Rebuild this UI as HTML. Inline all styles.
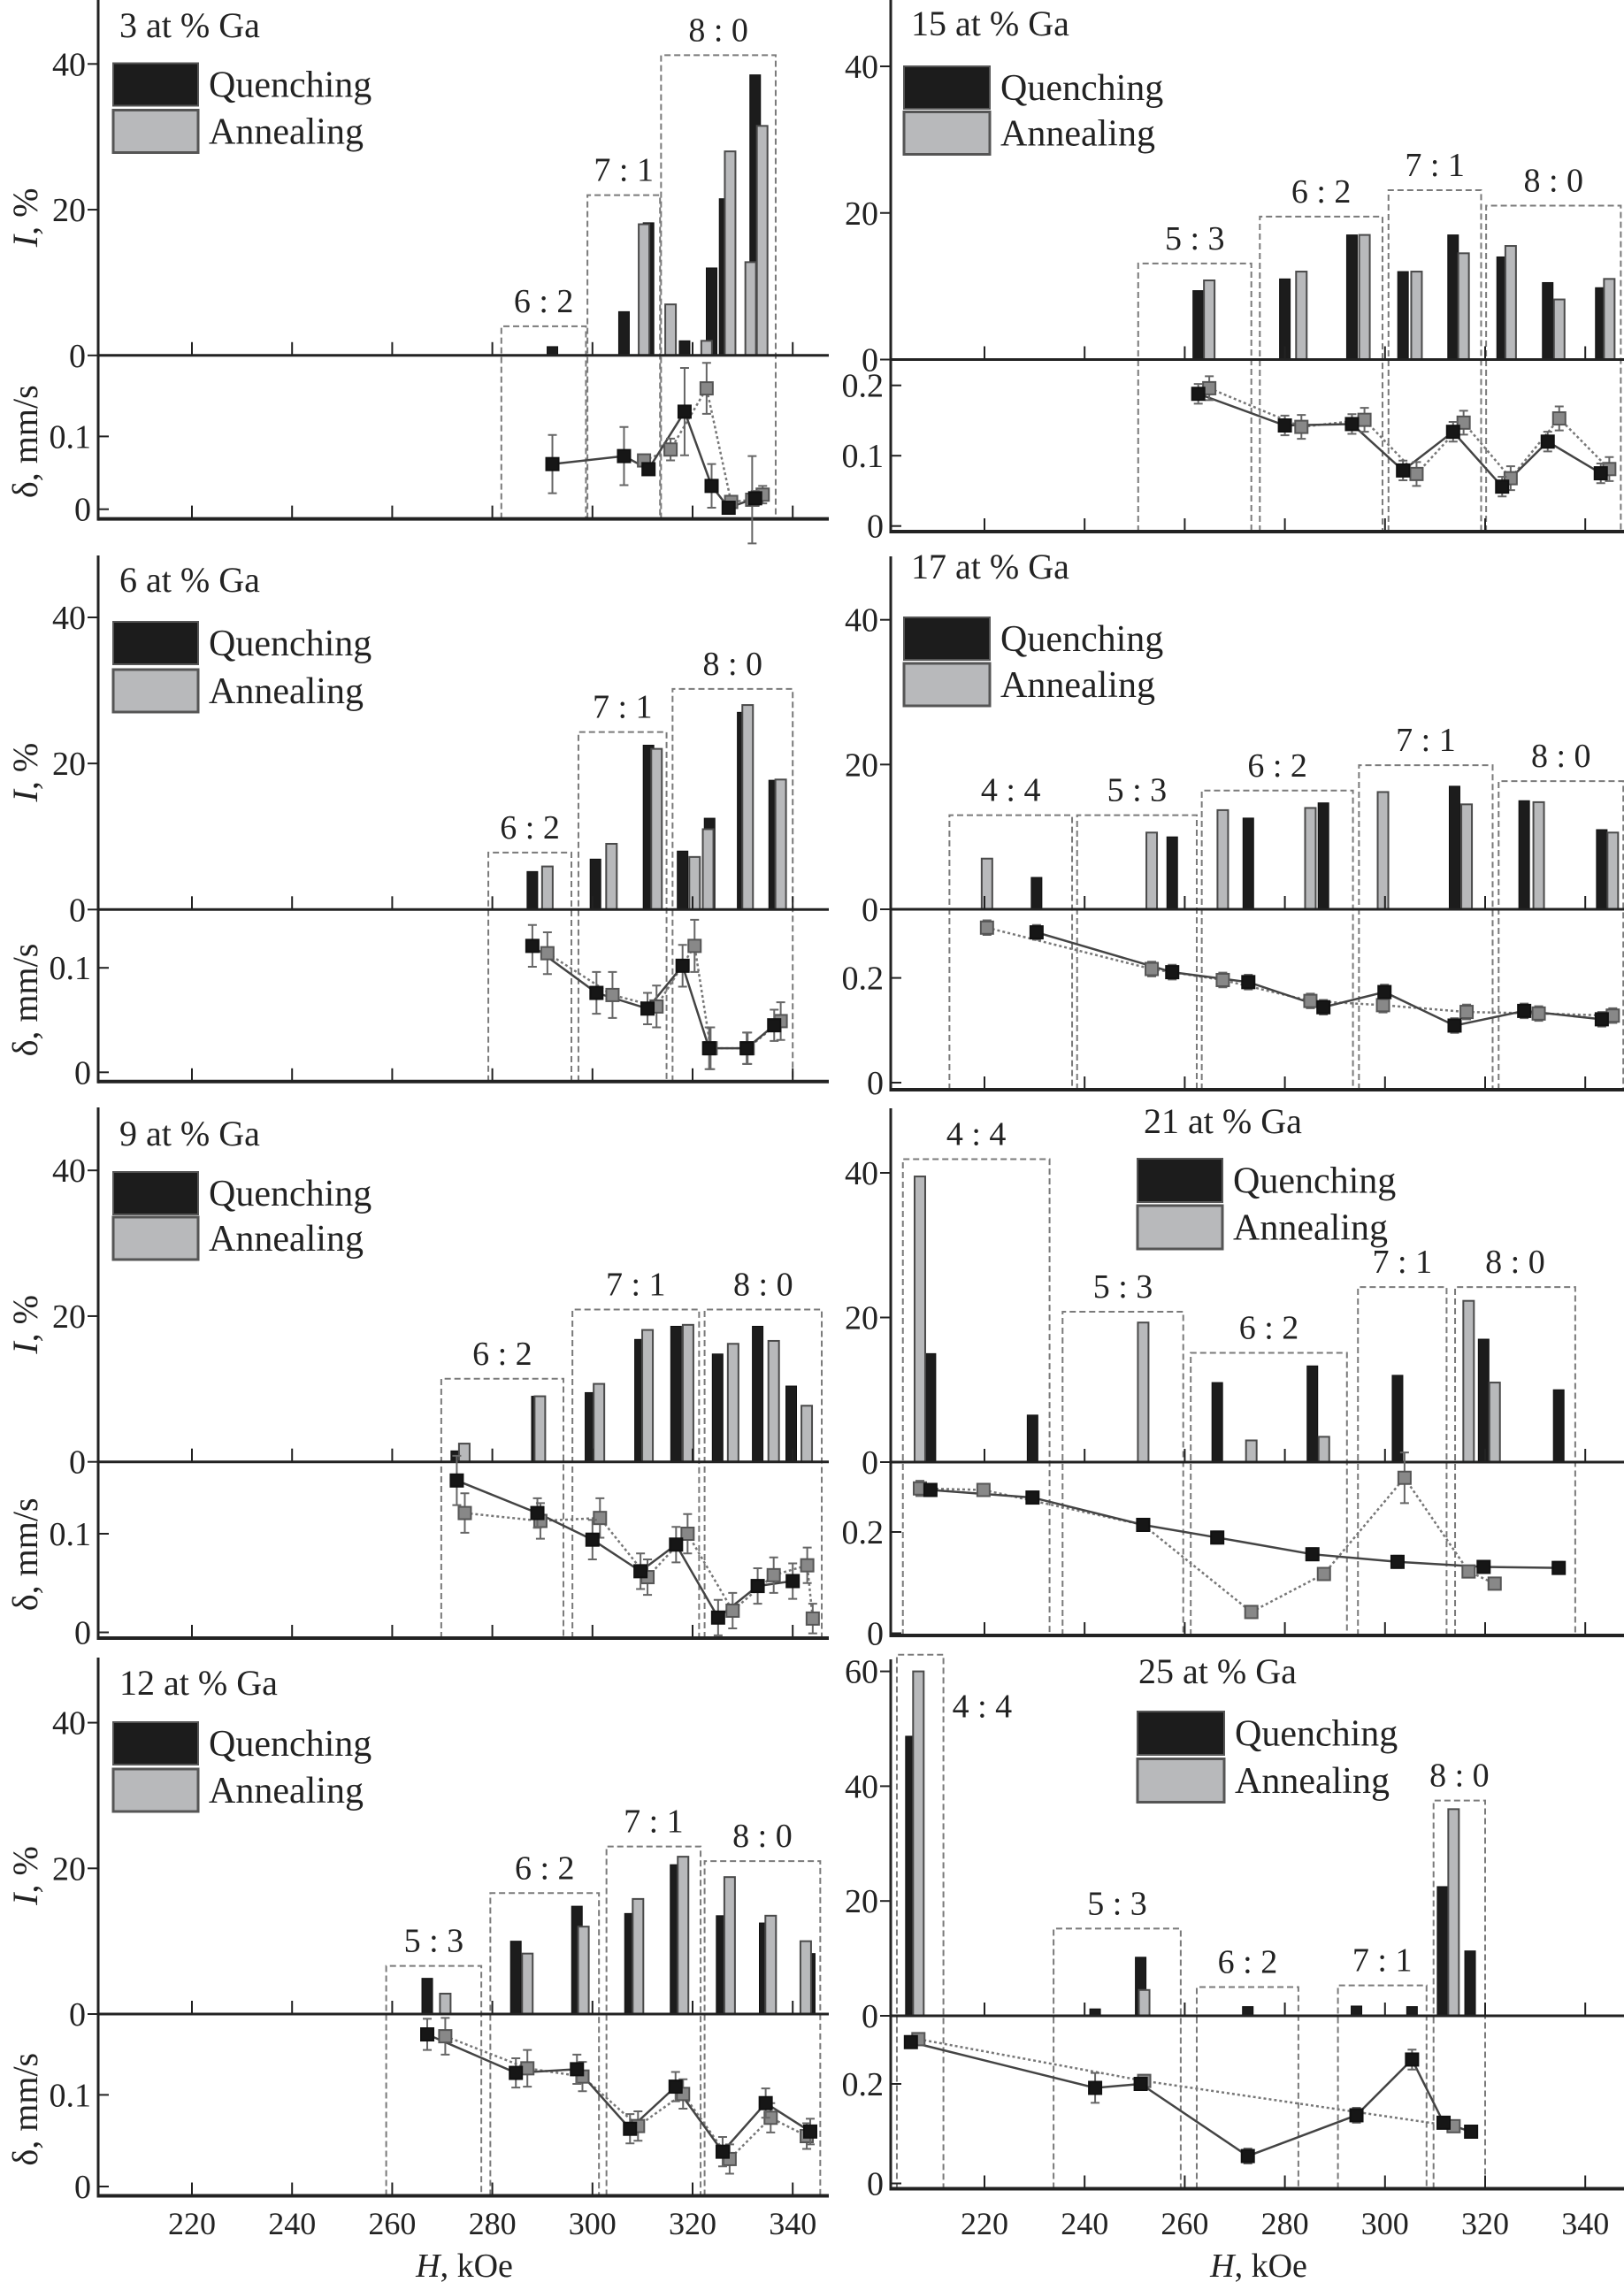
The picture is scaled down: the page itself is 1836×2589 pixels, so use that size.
<!DOCTYPE html>
<html><head><meta charset="utf-8"><style>
html,body{margin:0;padding:0;background:#fff}
svg{display:block;font-family:"Liberation Serif",serif}
</style></head><body>
<svg id="fig" width="1836" height="2589" viewBox="0 0 1836 2589" xmlns="http://www.w3.org/2000/svg"></svg>
<script>
// ---------- data: 3 at% ----------
const p3_qH=[292,306.3,311.2,318.4,323.8,326.4,332.5];
const p3_qI=[1.2,6,18.2,2,12,21.5,38.5];
const p3_aH=[310.3,315.6,322.8,327.5,331.6,333.9];
const p3_aI=[18,7,2,28,12.8,31.5];
const p3_dqH=[292,306.3,311.2,318.4,323.8,327.2,332.5];
const p3_dqV=[0.062,0.073,0.055,0.134,0.032,0.002,0.015];
const p3_dqE=[0.04,0.04,0.008,0.06,0.03,0.005,0.01];
const p3_daH=[310.3,315.6,322.8,327.7,331.9,334];
const p3_daV=[0.067,0.082,0.166,0.01,0.013,0.02];
const p3_daE=[0.008,0.015,0.035,0.008,0.06,0.012];
const p3_bL=['6 : 2','7 : 1','8 : 0'];
const p3_b0=[281.8,299,313.7];
const p3_b1=[298.7,313.5,336.6];
const p3_bT=[4,22,41.2];
// ---------- 6 at% ----------
const p6_qH=[288,300.6,311.2,318,323.4,330,336.3];
const p6_qI=[5.2,6.9,22.5,8,12.5,27,17.7];
const p6_aH=[291,303.8,312.8,320.4,323.1,331,337.6];
const p6_aI=[5.9,9,22,7.2,11,28,17.8];
const p6_dqH=[288,300.8,311,318,323.3,330.8,336.3];
const p6_dqV=[0.121,0.076,0.061,0.102,0.023,0.023,0.045];
const p6_dqE=[0.02,0.02,0.015,0.02,0.02,0.015,0.015];
const p6_daH=[291,304,312.8,320.4,323.6,331,337.6];
const p6_daV=[0.114,0.074,0.063,0.121,0.023,0.023,0.049];
const p6_daE=[0.02,0.022,0.02,0.025,0.02,0.015,0.018];
const p6_bL=['6 : 2','7 : 1','8 : 0'];
const p6_b0=[279.2,297.2,316];
const p6_b1=[295.8,314.8,340];
const p6_bT=[7.8,24.3,30.2];
// ---------- 9 at% ----------
const p9_qH=[272.8,288.9,299.6,309.5,316.7,325,333,339.7];
const p9_qI=[1.5,9,9.5,16.8,18.6,14.8,18.6,10.4];
const p9_aH=[274.4,289.5,301.3,311,319.1,328.1,336.2,342.8];
const p9_aI=[2.5,9,10.7,18.1,18.8,16.2,16.6,7.7];
const p9_dqH=[272.9,289,300,309.6,316.7,325.1,333,340];
const p9_dqV=[0.154,0.121,0.094,0.062,0.089,0.015,0.047,0.052];
const p9_dqE=[0.025,0.015,0.02,0.018,0.018,0.018,0.018,0.018];
const p9_daH=[274.5,289.6,301.5,311,319,328,336.2,342.9,344];
const p9_daV=[0.121,0.113,0.116,0.056,0.1,0.022,0.058,0.068,0.014];
const p9_daE=[0.02,0.018,0.02,0.018,0.02,0.018,0.018,0.018,0.015];
const p9_bL=['6 : 2','7 : 1','8 : 0'];
const p9_b0=[269.8,296,322.4];
const p9_b1=[294.2,321.3,345.8];
const p9_bT=[11.4,20.9,20.9];
// ---------- 12 at% ----------
const p12_qH=[267,284.7,296.9,307.5,316.6,325.8,334.4,343.4];
const p12_qI=[4.9,10,14.8,13.8,20.5,13.5,12.5,8.3];
const p12_aH=[270.6,287,298.2,309.1,318.1,327.4,335.6,342.6];
const p12_aI=[2.8,8.3,12,15.8,21.6,18.8,13.5,10];
const p12_dqH=[267,284.7,296.9,307.5,316.6,326,334.6,343.5];
const p12_dqV=[0.166,0.124,0.128,0.063,0.109,0.038,0.091,0.06];
const p12_dqE=[0.017,0.016,0.016,0.016,0.016,0.016,0.016,0.014];
const p12_daH=[270.6,287,298,309.1,318.1,327.4,335.6,342.8];
const p12_daV=[0.164,0.129,0.12,0.066,0.101,0.03,0.075,0.055];
const p12_daE=[0.02,0.02,0.016,0.016,0.016,0.016,0.016,0.014];
const p12_bL=['5 : 3','6 : 2','7 : 1','8 : 0'];
const p12_b0=[258.8,279.6,302.8,322.4];
const p12_b1=[277.8,301.3,321.6,345.5];
const p12_bT=[6.6,16.6,23,21];
// ---------- 15 at% ----------
const p15_qH=[262.7,280,293.4,303.6,313.6,323.4,332.5,343.1];
const p15_qI=[9.4,11,17,12,17,14,10.5,9.8];
const p15_aH=[264.9,283.3,295.9,306.3,315.7,325.1,334.8,344.8];
const p15_aI=[10.8,12,17,12,14.5,15.5,8.2,11];
const p15_dqH=[262.7,280,293.4,303.6,313.6,323.4,332.5,343.1];
const p15_dqV=[0.188,0.143,0.145,0.079,0.134,0.056,0.12,0.075];
const p15_dqE=[0.014,0.014,0.014,0.014,0.014,0.014,0.014,0.014];
const p15_daH=[264.9,283.3,295.9,306.3,315.7,325.1,334.8,344.8];
const p15_daV=[0.196,0.141,0.151,0.074,0.147,0.068,0.153,0.081];
const p15_daE=[0.017,0.017,0.017,0.017,0.017,0.017,0.017,0.017];
const p15_bL=['5 : 3','6 : 2','7 : 1','8 : 0'];
const p15_b0=[250.7,275,300.7,320.2];
const p15_b1=[273.3,299.5,319.2,347.1];
const p15_bT=[13.1,19.5,23.1,21];
// ---------- 17 at% ----------
const p17_qH=[230.4,257.5,272.7,287.7,313.9,327.8,343.3];
const p17_qI=[4.4,10,12.6,14.7,17,15,11];
const p17_aH=[220.5,253.4,267.6,285.1,299.6,316.3,330.7,345.5];
const p17_aI=[7,10.6,13.7,14,16.2,14.5,14.8,10.6];
const p17_dqH=[230.4,257.5,272.7,287.7,299.9,313.9,327.8,343.3];
const p17_dqV=[0.287,0.211,0.192,0.144,0.173,0.109,0.137,0.121];
const p17_dqE=[0.014,0.014,0.014,0.014,0.014,0.014,0.014,0.014];
const p17_daH=[220.5,253.4,267.6,285.1,299.6,316.3,330.7,345.5];
const p17_daV=[0.296,0.217,0.196,0.156,0.148,0.135,0.132,0.128];
const p17_daE=[0.014,0.014,0.014,0.014,0.014,0.014,0.014,0.014];
const p17_bL=['4 : 4','5 : 3','6 : 2','7 : 1','8 : 0'];
const p17_b0=[213,238.5,263.4,294.8,322.7];
const p17_b1=[237.5,262.4,293.6,321.5,347.6];
const p17_bT=[13,13,16.4,19.9,17.7];
// ---------- 21 at% ----------
const p21_qH=[209.2,229.6,266.5,285.5,302.5,319.7,334.7];
const p21_qI=[15,6.5,11,13.3,12,17,10];
const p21_aH=[207.1,251.7,273.3,287.8,316.7,321.9];
const p21_aI=[39.5,19.3,3,3.5,22.3,11];
const p21_dqH=[209.2,229.6,251.7,266.5,285.5,302.5,319.7,334.7];
const p21_dqV=[0.283,0.268,0.214,0.189,0.156,0.141,0.131,0.129];
const p21_dqE=[0.012,0.012,0.012,0.012,0.012,0.012,0.012,0.012];
const p21_daH=[207.1,219.8,251.7,273.3,287.8,303.9,316.7,321.9];
const p21_daV=[0.286,0.283,0.214,0.042,0.117,0.307,0.122,0.098];
const p21_daE=[0.015,0.01,0.01,0.012,0.012,0.05,0.01,0.01];
const p21_bL=['4 : 4','5 : 3','6 : 2','7 : 1','8 : 0'];
const p21_b0=[203.7,235.6,261.2,294.6,314];
const p21_b1=[233,259.7,292.4,312.3,338];
const p21_bT=[41.9,20.8,15.1,24.2,24.2];
// ---------- 25 at% ----------
const p25_qH=[205.3,242.1,251.2,272.6,294.3,305.4,311.5,317];
const p25_qI=[48.7,1.2,10.2,1.6,1.7,1.6,22.5,11.3];
const p25_aH=[206.8,251.9,313.7];
const p25_aI=[60,4.5,36];
const p25_dqH=[205.3,242.1,251.2,272.6,294.3,305.4,311.7,317.2];
const p25_dqV=[0.284,0.192,0.2,0.055,0.137,0.249,0.122,0.104];
const p25_dqE=[0.012,0.03,0.012,0.015,0.015,0.02,0.01,0.01];
const p25_daH=[206.8,251.9,313.7];
const p25_daV=[0.29,0.206,0.115];
const p25_daE=[0.012,0.012,0.01];
const p25_bL=['4 : 4','5 : 3','6 : 2','7 : 1','8 : 0'];
const p25_b0=[202.5,233.8,262.4,290.6,309.7];
const p25_b1=[211.8,259.2,282.7,308.3,320];
const p25_bT=[62.9,15.2,5,5.3,37.5];
// tick labels
const xTicks=[220,240,260,280,300,320,340];
const iTicks=[0,20,40];
const iTicks60=[0,20,40,60];
const dTicksL=[0,0.1];
const dTicksR1=[0,0.1,0.2];
const dTicksR=[0,0.2];

const NS='http://www.w3.org/2000/svg';
const svg=document.getElementById('fig');
function mk(tag,attrs,parent){const e=document.createElementNS(NS,tag);for(const k in attrs)e.setAttribute(k,attrs[k]);(parent||svg).appendChild(e);return e;}

const panels=[
 {id:'3',title:'3 at % Ga',side:'L',top:0,axisB:586.6,i0:401.8,i40:72.3,d0:575.7,dRef:0.1,dRefY:493.4,iT:iTicks,dT:dTicksL,
  leg:{x:128,w:96,q:71.5,a:124.5,h:48,tx:135,ty:40},
  qH:p3_qH,qI:p3_qI,aH:p3_aH,aI:p3_aI,dqH:p3_dqH,dqV:p3_dqV,dqE:p3_dqE,daH:p3_daH,daV:p3_daV,daE:p3_daE,bL:p3_bL,b0:p3_b0,b1:p3_b1,bT:p3_bT},
 {id:'6',title:'6 at % Ga',side:'L',top:628,axisB:1222.8,i0:1028.3,i40:698,d0:1212.3,dRef:0.1,dRefY:1094.2,iT:iTicks,dT:dTicksL,
  leg:{x:128,w:96,q:703,a:757,h:48,tx:135,ty:667},
  qH:p6_qH,qI:p6_qI,aH:p6_aH,aI:p6_aI,dqH:p6_dqH,dqV:p6_dqV,dqE:p6_dqE,daH:p6_daH,daV:p6_daV,daE:p6_daE,bL:p6_bL,b0:p6_b0,b1:p6_b1,bT:p6_bT},
 {id:'9',title:'9 at % Ga',side:'L',top:1252,axisB:1852,i0:1652.7,i40:1323.2,d0:1845.5,dRef:0.1,dRefY:1734,iT:iTicks,dT:dTicksL,
  leg:{x:128,w:96,q:1325,a:1376,h:48,tx:135,ty:1293},
  qH:p9_qH,qI:p9_qI,aH:p9_aH,aI:p9_aI,dqH:p9_dqH,dqV:p9_dqV,dqE:p9_dqE,daH:p9_daH,daV:p9_daV,daE:p9_daE,bL:p9_bL,b0:p9_b0,b1:p9_b1,bT:p9_bT},
 {id:'12',title:'12 at % Ga',side:'L',top:1874,axisB:2482.5,i0:2277,i40:1947.6,d0:2472,dRef:0.1,dRefY:2368.4,iT:iTicks,dT:dTicksL,
  leg:{x:128,w:96,q:1947,a:2000,h:48,tx:135,ty:1914},
  qH:p12_qH,qI:p12_qI,aH:p12_aH,aI:p12_aI,dqH:p12_dqH,dqV:p12_dqV,dqE:p12_dqE,daH:p12_daH,daV:p12_daV,daE:p12_daE,bL:p12_bL,b0:p12_b0,b1:p12_b1,bT:p12_bT},
 {id:'15',title:'15 at % Ga',side:'R',top:0,axisB:601,i0:406.5,i40:75,d0:594.7,dRef:0.2,dRefY:435.7,iT:iTicks,dT:dTicksR1,
  leg:{x:1022,w:97,q:75,a:126.5,h:48,tx:1030,ty:38},
  qH:p15_qH,qI:p15_qI,aH:p15_aH,aI:p15_aI,dqH:p15_dqH,dqV:p15_dqV,dqE:p15_dqE,daH:p15_daH,daV:p15_daV,daE:p15_daE,bL:p15_bL,b0:p15_b0,b1:p15_b1,bT:p15_bT},
 {id:'17',title:'17 at % Ga',side:'R',top:629,axisB:1232,i0:1028,i40:700.7,d0:1224,dRef:0.2,dRefY:1105.6,iT:iTicks,dT:dTicksR,
  leg:{x:1022,w:97,q:698,a:750,h:48,tx:1030,ty:652},
  qH:p17_qH,qI:p17_qI,aH:p17_aH,aI:p17_aI,dqH:p17_dqH,dqV:p17_dqV,dqE:p17_dqE,daH:p17_daH,daV:p17_daV,daE:p17_daE,bL:p17_bL,b0:p17_b0,b1:p17_b1,bT:p17_bT},
 {id:'21',title:'21 at % Ga',side:'R',top:1253,axisB:1849,i0:1653,i40:1326,d0:1846.5,dRef:0.2,dRefY:1732,iT:iTicks,dT:dTicksR,
  leg:{x:1286,w:96,q:1310,a:1363,h:49,tx:1293,ty:1279},
  qH:p21_qH,qI:p21_qI,aH:p21_aH,aI:p21_aI,dqH:p21_dqH,dqV:p21_dqV,dqE:p21_dqE,daH:p21_daH,daV:p21_daV,daE:p21_daE,bL:p21_bL,b0:p21_b0,b1:p21_b1,bT:p21_bT},
 {id:'25',title:'25 at % Ga',side:'R',top:1876,axisB:2474.5,i0:2279,i40:2019.4,d0:2468.5,dRef:0.2,dRefY:2356,iT:iTicks60,dT:dTicksR,
  leg:{x:1286,w:98,q:1935,a:1988.5,h:49,tx:1287,ty:1901},side44:true,
  qH:p25_qH,qI:p25_qI,aH:p25_aH,aI:p25_aI,dqH:p25_dqH,dqV:p25_dqV,dqE:p25_dqE,daH:p25_daH,daV:p25_daV,daE:p25_daE,bL:p25_bL,b0:p25_b0,b1:p25_b1,bT:p25_bT}
];

function drawPanel(p,bottom){
  const ax=p.side==='L'?111:1007, xEnd=p.side==='L'?937:1836, xo=p.side==='L'?217:1113;
  const X=h=>xo+(h-220)*5.66;
  const YI=v=>p.i0-v*(p.i0-p.i40)/40;
  const YD=v=>p.d0-v*(p.d0-p.dRefY)/p.dRef;
  const g=mk('g',{});
  
  
  p.bL.forEach((lab,i)=>{
    const x0=X(p.b0[i]),x1=X(p.b1[i]),yt=YI(p.bT[i]);
    const b=mk('path',{d:`M${x0},${p.axisB} V${yt} H${x1} V${p.axisB}`,fill:'none',stroke:'#7a7a7a','stroke-width':2,'stroke-dasharray':'7 4'},g);
    
    
    let tx=(x0+x1)/2, ty=yt-16, anchor='middle';
    if(p.side44&&i===0){tx=x1+10;ty=YI(52);anchor='start';}
    const t=mk('text',{x:tx,y:ty,'font-size':38,'text-anchor':anchor,fill:'#222'},g);
    t.textContent=lab;
    
    
  });
  const bw=12;
  p.qH.forEach((h,i)=>{
    const r=mk('rect',{x:X(h)-bw/2,y:YI(p.qI[i]),width:bw,height:p.i0-YI(p.qI[i]),fill:'#1c1c1c',stroke:'#111','stroke-width':1},g);
    
    
  });
  p.aH.forEach((h,i)=>{
    const r=mk('rect',{x:X(h)-bw/2,y:YI(p.aI[i]),width:bw,height:p.i0-YI(p.aI[i]),fill:'#b8b9bb',stroke:'#4a4a4a','stroke-width':2},g);
    
    
  });
  mk('line',{x1:ax,y1:p.top,x2:ax,y2:p.axisB+2,stroke:'#222','stroke-width':3},g);
  mk('line',{x1:ax,y1:p.i0,x2:xEnd,y2:p.i0,stroke:'#222','stroke-width':3},g);
  mk('line',{x1:ax,y1:p.axisB,x2:xEnd,y2:p.axisB,stroke:'#222','stroke-width':4},g);
  xTicks.forEach(t=>{
    mk('line',{x1:X(t),y1:p.i0,x2:X(t),y2:p.i0-15,stroke:'#222','stroke-width':2},g);
    mk('line',{x1:X(t),y1:p.axisB,x2:X(t),y2:p.axisB-15,stroke:'#222','stroke-width':2},g);
    if(bottom){
      const t2=mk('text',{x:X(t),y:2526,'font-size':36,'text-anchor':'middle',fill:'#222'},g);
      t2.textContent=t;
      
      
    }
  });
  p.iT.forEach(t=>{
    const y=YI(t);
    mk('line',{x1:ax-12,y1:y,x2:ax,y2:y,stroke:'#222','stroke-width':2},g);
    const tl=mk('text',{x:ax-14,y:y+13,'font-size':38,'text-anchor':'end',fill:'#222'},g);
    tl.textContent=t;
    
    
  });
  p.dT.forEach(t=>{
    const y=YD(t);
    mk('line',{x1:ax,y1:y,x2:ax+12,y2:y,stroke:'#222','stroke-width':2},g);
    const tl=mk('text',{x:ax-8,y:y+13,'font-size':38,'text-anchor':'end',fill:'#222'},g);
    tl.textContent=t;
    
    
  });
  const ptsA=p.daH.map((h,i)=>X(h)+','+YD(p.daV[i])).join(' ');
  const la=mk('polyline',{points:ptsA,fill:'none',stroke:'#777','stroke-width':2.5,'stroke-dasharray':'3 3'},g);
  
  
  const ptsQ=p.dqH.map((h,i)=>X(h)+','+YD(p.dqV[i])).join(' ');
  const lq=mk('polyline',{points:ptsQ,fill:'none',stroke:'#444','stroke-width':2.5},g);
  
  
  function pt(h,v,e,fill,stroke,name){
    const x=X(h),y=YD(v),y1=YD(v+e),y2=YD(v-e);
    mk('path',{d:`M${x},${y1}V${y2}M${x-5},${y1}H${x+5}M${x-5},${y2}H${x+5}`,stroke:'#666','stroke-width':2,fill:'none'},g);
    const r=mk('rect',{x:x-7,y:y-7,width:14,height:14,fill:fill,stroke:stroke,'stroke-width':2},g);
    
    
  }
  p.daH.forEach((h,i)=>pt(h,p.daV[i],p.daE[i],'#888','#555','point-annealing'));
  p.dqH.forEach((h,i)=>pt(h,p.dqV[i],p.dqE[i],'#161616','#111','point-quenching'));
  const L=p.leg;
  const tt=mk('text',{x:L.tx,y:L.ty+2,'font-size':40,fill:'#222'},g);
  tt.textContent=p.title;
  
  
  const lq2=mk('rect',{x:L.x,y:L.q,width:L.w,height:L.h,fill:'#1c1c1c',stroke:'#555','stroke-width':2},g);
  
  
  const la2=mk('rect',{x:L.x,y:L.a,width:L.w,height:L.h,fill:'#b8b9bb',stroke:'#555','stroke-width':3},g);
  
  
  const q3=mk('text',{x:L.x+L.w+12,y:L.q+L.h/2+14,'font-size':42,fill:'#222'},g);
  q3.textContent='Quenching';
  
  
  const a3=mk('text',{x:L.x+L.w+12,y:L.a+L.h/2+14,'font-size':42,fill:'#222'},g);
  a3.textContent='Annealing';
  
  
  if(p.side==='L'){
    const yc=(p.top+50+p.i0)/2+20;
    const it=mk('text',{x:0,y:0,'font-size':40,'text-anchor':'middle',fill:'#222',transform:`translate(42,${yc}) rotate(-90)`},g);
    it.innerHTML='<tspan font-style="italic">I</tspan>, %';
    
    
    const dc=(p.i0+p.axisB)/2+5;
    const dt=mk('text',{x:0,y:0,'font-size':40,'text-anchor':'middle',fill:'#222',transform:`translate(42,${dc}) rotate(-90)`},g);
    dt.textContent='δ, mm/s';
    
    
  }
}
panels.forEach(p=>drawPanel(p,p.id==='12'||p.id==='25'));
[[525,'left'],[1423,'right']].forEach(([x,s])=>{
  const t=mk('text',{x:x,y:2574,'font-size':38,'text-anchor':'middle',fill:'#222'});
  t.innerHTML='<tspan font-style="italic">H</tspan>, kOe';
  
  
});
</script>
</body></html>
